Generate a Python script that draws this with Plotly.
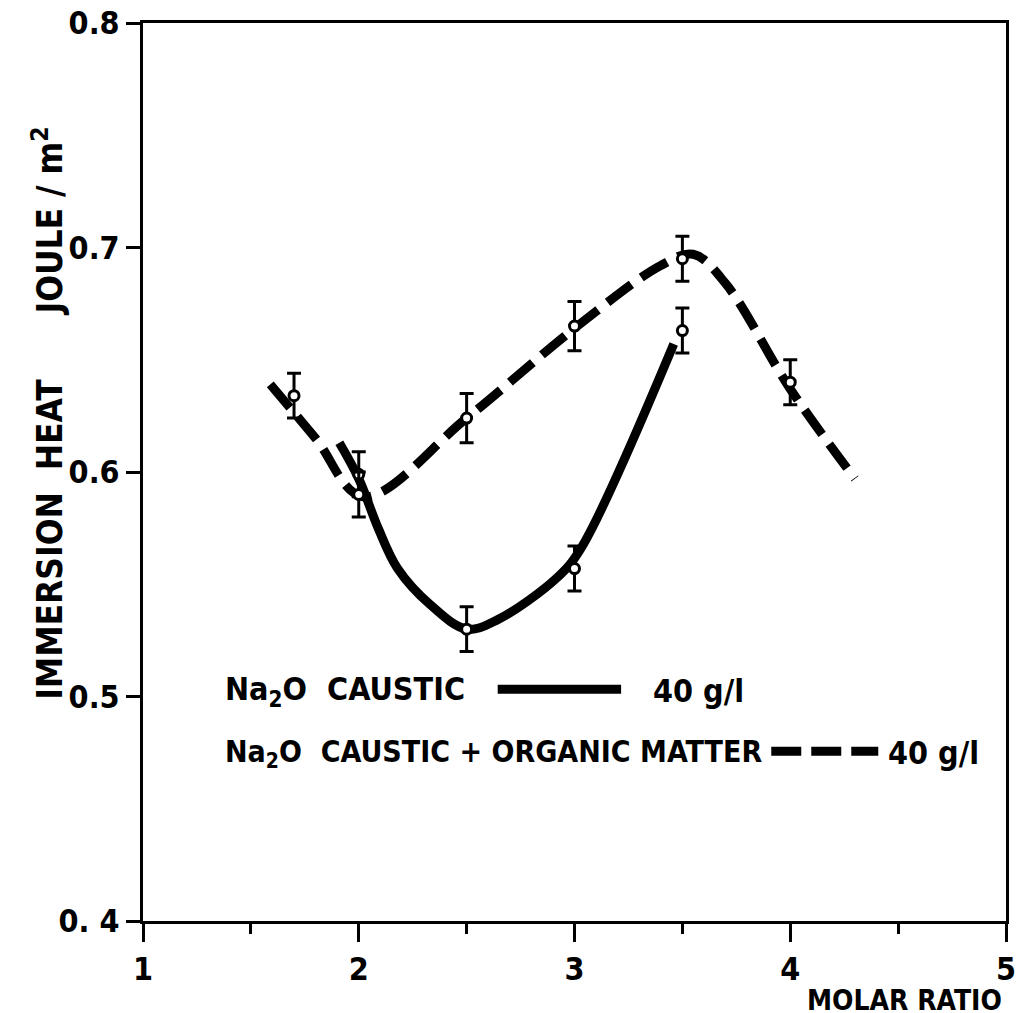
import plotly.graph_objects as go

# Measured points (molar ratio, immersion heat J/m2)
caustic_x = [2.0, 2.5, 3.0, 3.5]
caustic_y = [0.599, 0.530, 0.557, 0.663]
caustic_err = [0.010, 0.010, 0.010, 0.010]

organic_x = [1.7, 2.0, 2.5, 3.0, 3.5, 4.0]
organic_y = [0.634, 0.590, 0.624, 0.665, 0.695, 0.640]
organic_err = [0.010, 0.010, 0.011, 0.011, 0.010, 0.010]

# Hand-drawn curves (knots)
caustic_curve_x = [1.91, 2.0, 2.09, 2.18, 2.33, 2.5, 2.64, 2.92, 3.03, 3.46]
caustic_curve_y = [0.613, 0.597, 0.575, 0.557, 0.541, 0.530, 0.534, 0.553, 0.566, 0.657]

organic_curve_x = [1.59, 1.8, 2.02, 2.5, 3.0, 3.4, 3.55, 3.7, 4.0, 4.3]
organic_curve_y = [0.639, 0.615, 0.589, 0.624, 0.664, 0.692, 0.697, 0.684, 0.637, 0.597]

x_ticks = [1, 2, 3, 4, 5]
y_ticks = [0.4, 0.5, 0.6, 0.7, 0.8]
y_tick_text = ["0. 4", "0.5", "0.6", "0.7", "0.8"]

FONT = "DejaVu Sans Condensed"
BLACK = "#000000"

fig = go.Figure()

fig.add_trace(go.Scatter(
    x=caustic_curve_x, y=caustic_curve_y, mode="lines",
    line=dict(color=BLACK, width=9, shape="spline"), hoverinfo="skip", showlegend=False))
fig.add_trace(go.Scatter(
    x=organic_curve_x, y=organic_curve_y, mode="lines",
    line=dict(color=BLACK, width=9, shape="spline", dash="30px,12px"), hoverinfo="skip", showlegend=False))

for xs, ys, es in [(caustic_x, caustic_y, caustic_err), (organic_x, organic_y, organic_err)]:
    fig.add_trace(go.Scatter(
        x=xs, y=ys, mode="markers",
        marker=dict(symbol="circle", size=10, color="white", line=dict(color=BLACK, width=3)),
        error_y=dict(type="data", array=es, visible=True, color=BLACK, thickness=3, width=7),
        showlegend=False))

# Legend (drawn as text + line samples)
leg_font = dict(family=FONT, size=32, color=BLACK, weight="bold")
leg_font2 = dict(family=FONT, size=30, color=BLACK, weight="bold")
fig.add_annotation(x=0.093, y=0.256, xref="paper", yref="paper", xanchor="left", yanchor="middle",
                   text="Na<sub>2</sub>O  CAUSTIC", showarrow=False, font=leg_font)
fig.add_annotation(x=0.589, y=0.256, xref="paper", yref="paper", xanchor="left", yanchor="middle",
                   text="40 g/l", showarrow=False, font=leg_font)
fig.add_annotation(x=0.093, y=0.187, xref="paper", yref="paper", xanchor="left", yanchor="middle",
                   text="Na<sub>2</sub>O  CAUSTIC + ORGANIC MATTER", showarrow=False, font=leg_font2)
fig.add_annotation(x=0.861, y=0.187, xref="paper", yref="paper", xanchor="left", yanchor="middle",
                   text="40 g/l", showarrow=False, font=leg_font)
fig.add_shape(type="line", xref="paper", yref="paper", x0=0.411, x1=0.554, y0=0.258, y1=0.258,
              line=dict(color=BLACK, width=9))
fig.add_shape(type="line", xref="paper", yref="paper", x0=0.728, x1=0.852, y0=0.189, y1=0.189,
              line=dict(color=BLACK, width=9, dash="30px,10px"))

# Axis titles
fig.add_annotation(x=-0.111, y=0.565, xref="paper", yref="paper", textangle=-90,
                   xanchor="center", yanchor="middle",
                   text="IMMERSION  HEAT      JOULE / m<sup>2</sup>", showarrow=False,
                   font=dict(family=FONT, size=35, color=BLACK, weight="bold"))
fig.add_annotation(x=0.882, y=-0.089, xref="paper", yref="paper",
                   xanchor="center", yanchor="middle",
                   text="MOLAR RATIO", showarrow=False,
                   font=dict(family=FONT, size=28, color=BLACK, weight="bold"))

axis_common = dict(showgrid=False, zeroline=False, showline=True, linecolor=BLACK, linewidth=3,
                   mirror=True, ticks="outside", tickcolor=BLACK, tickwidth=3, automargin=False,
                   tickfont=dict(family=FONT, size=32, color=BLACK, weight="bold"))

fig.update_layout(
    width=1008, height=1006,
    margin=dict(l=135, r=10, t=15, b=93),
    paper_bgcolor="white", plot_bgcolor="white",
    showlegend=False,
    xaxis=dict(range=[1, 5], tickvals=x_ticks, ticklen=18, ticklabeloverflow="allow",
               minor=dict(dtick=0.5, ticks="outside", ticklen=10, tickwidth=3, tickcolor=BLACK),
               **axis_common),
    yaxis=dict(range=[0.4, 0.8], tickvals=y_ticks, ticktext=y_tick_text, ticklen=14,
               ticklabeloverflow="allow", **axis_common),
)

fig.write_html("out.html")
